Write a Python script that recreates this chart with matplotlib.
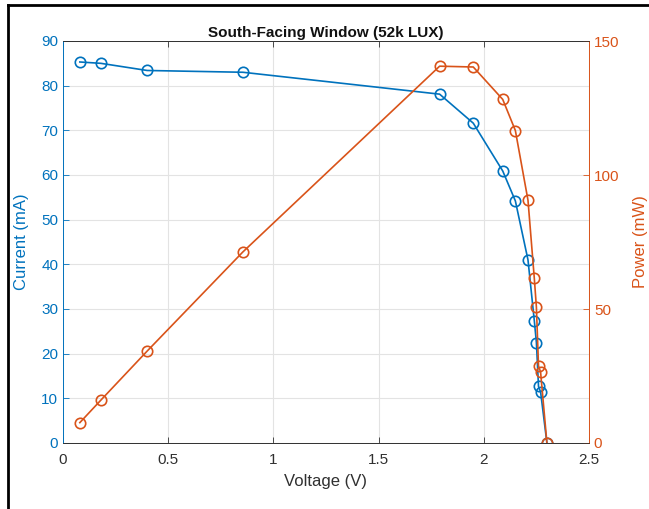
import numpy as np
import matplotlib.pyplot as plt
from matplotlib.lines import Line2D

plt.rcParams['font.family'] = ['Liberation Sans', 'DejaVu Sans']

voltage = [0.08, 0.18, 0.40, 0.855, 1.79, 1.95, 2.09, 2.15, 2.21, 2.24, 2.25, 2.26, 2.27, 2.30]
current = [85.3, 85.0, 83.4, 83.0, 78.1, 71.6, 60.9, 54.2, 41.0, 27.4, 22.5, 12.7, 11.4, 0.0]
power = [7.6, 16.0, 34.3, 71.3, 140.6, 140.3, 128.2, 116.6, 90.6, 61.5, 50.7, 28.8, 26.4, 0.0]

blue = '#0072BD'
orange = '#D95319'
dark = '#303030'

fig = plt.figure(figsize=(6.49, 5.09), dpi=100)
ax = fig.add_axes([63/649, 1-443/509, (589-63)/649, (443-41)/509])
ax2 = ax.twinx()

ax.plot(voltage, current, '-o', color=blue, lw=1.2, ms=7.5, mfc='none', mew=1.2)
ax2.plot(voltage, power, '-o', color=orange, lw=1.2, ms=7.5, mfc='none', mew=1.2)

ax.set_xlim(0, 2.5)
ax.set_ylim(0, 90)
ax2.set_ylim(0, 150)
ax.set_xticks(np.arange(0, 2.51, 0.5))
ax.set_xticklabels(['0', '0.5', '1', '1.5', '2', '2.5'])
ax.set_yticks(np.arange(0, 91, 10))
ax2.set_yticks([0, 50, 100, 150])

ax.grid(True, color='#e3e3e3', lw=0.8)
ax.set_axisbelow(True)

ax.tick_params(axis='x', direction='in', length=4, top=True, colors=dark,
               labelsize=11, pad=7, width=0.6)
ax.tick_params(axis='y', direction='in', length=4, colors=blue, labelsize=11, width=0.6)
ax2.tick_params(axis='y', direction='in', length=4, colors=orange, labelsize=11, width=0.6)

for a in (ax, ax2):
    a.spines['bottom'].set_color(dark)
    a.spines['top'].set_color(dark)
    a.spines['left'].set_color(blue)
    a.spines['right'].set_color(orange)
    for s in a.spines.values():
        s.set_linewidth(0.6)

ax.set_xlabel('Voltage (V)', fontsize=12, color=dark, labelpad=5)
ax.set_ylabel('Current (mA)', fontsize=12, color=blue, labelpad=9)
ax2.set_ylabel('Power (mW)', fontsize=12, color=orange, labelpad=10)
ax.set_title('South-Facing Window (52k LUX)', fontsize=11, fontweight='bold',
             color='#111111', pad=3)

# black frame lines at the left and top edge of the picture
fig.add_artist(Line2D([8/649, 8/649], [0, 1-5/509], color='black', lw=2))
fig.add_artist(Line2D([8/649, 1], [1-5/509, 1-5/509], color='black', lw=2))

fig.savefig('out.png', dpi=100)
